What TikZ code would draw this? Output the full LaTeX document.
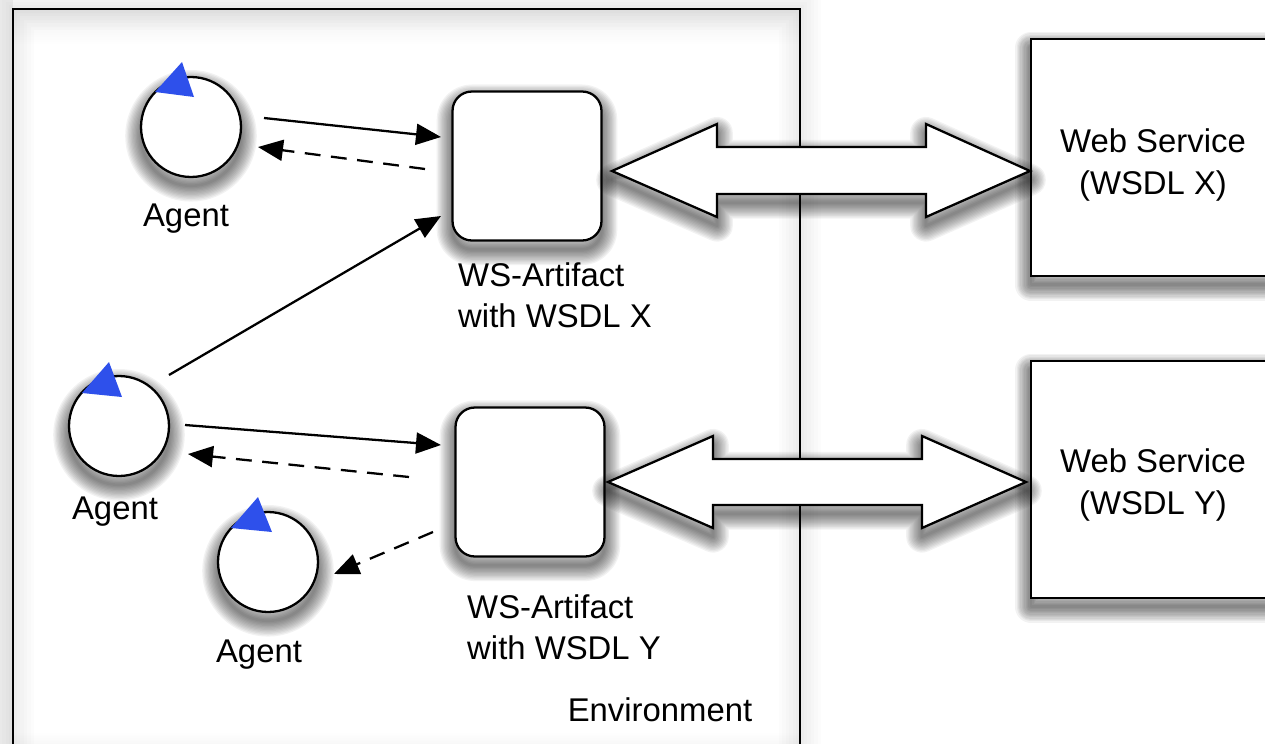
\documentclass[tikz,border=0pt]{standalone}
\usepackage{fontspec}
\setmainfont{Liberation Sans}
\usetikzlibrary{arrows.meta}
\definecolor{pointerblue}{RGB}{46,80,235}
\tikzset{
    softstep/.style = {preaction = {draw = black, draw opacity = .05, line width = #1, line join = round, transform canvas = {yshift = -5pt}}},
    softshadow/.style = {softstep = 18pt, softstep = 16.5pt, softstep = 15pt, softstep = 13.5pt, softstep = 12pt, softstep = 10.5pt, softstep = 9pt, softstep = 7.5pt, softstep = 6pt, softstep = 4.5pt, softstep = 3pt, softstep = 1.5pt},
    agentnode/.style = {circle, draw, line width = 1.3pt, fill = white, minimum size = 2cm, inner sep = 0pt, softshadow},
    artifactnode/.style = {rectangle, rounded corners = 11pt, draw, line width = 1.3pt, fill = white, minimum size = 2.98cm, inner sep = 0pt, softshadow},
    servicenode/.style = {rectangle, draw, line width = 1.3pt, fill = white, minimum width = 4.88cm, minimum height = 4.74cm, softshadow},
    labelnode/.style = {align = left, inner sep = 0pt},
    namenode/.style = {align = center, inner sep = 0pt},
    callline/.style = {-{Triangle[length = 0.5cm, width = 0.42cm, fill = black]}, line width = 1.3pt},
    backline/.style = {callline, dash pattern = on 9pt off 6pt},
    pipe/.style = {draw, line width = 1.3pt, fill = white, line join = miter, softshadow},
    wallstep/.style = {preaction = {draw = black, draw opacity = .012, line width = #1}}
}
\begin{document}
\begin{tikzpicture}[x = 0.02cm, y = -0.02cm, font = \fontsize{18.7}{23.6}\selectfont]
    \useasboundingbox (0,0) rectangle (1265,744);

    % environment
    \fill [black!5] (0,0) rectangle (13,744);
    \shade [top color = black!6, bottom color = white] (13,9) rectangle (800,45);
    \shade [top color = white, bottom color = black!3] (13,732) rectangle (800,744);
    \draw [line width = 1.3pt, wallstep = 24pt, wallstep = 20pt, wallstep = 16pt, wallstep = 12pt, wallstep = 8pt, wallstep = 4pt] (13,750) -- (13,9) -- (800,9) -- (800,750);
    \node [labelnode] (environment) at (660,710) {Environment};

    % services
    \node [servicenode] (serviceX) at (1153,157.5) {};
    \node [servicenode] (serviceY) at (1153,479.5) {};
    \node [namenode] (nameX) at (1153,165) {Web Service\\(WSDL X)};
    \node [namenode] (nameY) at (1153,485) {Web Service\\(WSDL Y)};

    % artifacts
    \node [artifactnode] (artifactX) at (527,166) {};
    \node [artifactnode] (artifactY) at (530,482) {};
    \node [labelnode] (labelX) at (555,295) {WS-Artifact\\with WSDL X};
    \node [labelnode] (labelY) at (564,627) {WS-Artifact\\with WSDL Y};

    % agents
    \node [agentnode] (agentA) at (191,127) {};
    \node [agentnode] (agentB) at (119,426) {};
    \node [agentnode] (agentC) at (268,562) {};
    \fill [pointerblue] (155,92) -- (182,62) -- (194,97) -- cycle;
    \fill [pointerblue] (82,393) -- (109,362) -- (122,397) -- cycle;
    \fill [pointerblue] (231,528) -- (258,497) -- (272,532) -- cycle;
    \node [namenode] (captionA) at (186,219) {Agent};
    \node [namenode] (captionB) at (115,512) {Agent};
    \node [namenode] (captionC) at (259,655) {Agent};

    % double arrows
    \draw [pipe] (612,171) -- (717,124) -- (717,147) -- (926,147) -- (926,124) -- (1030,171) -- (926,217) -- (926,194) -- (717,194) -- (717,217) -- cycle;
    \draw [pipe] (608,482) -- (713,436) -- (713,459) -- (922,459) -- (922,436) -- (1026,482) -- (922,528) -- (922,505) -- (713,505) -- (713,528) -- cycle;

    % messages
    \coordinate (outA) at (264,118);
    \coordinate (inX) at (441,137);
    \coordinate (fromX) at (425,169);
    \coordinate (backA) at (258,147);
    \coordinate (outB) at (169,375);
    \coordinate (inXB) at (441,216);
    \coordinate (outBY) at (185,425);
    \coordinate (inY) at (441,445);
    \coordinate (fromY) at (409,477);
    \coordinate (backB) at (188,454);
    \coordinate (fromYC) at (433,532);
    \coordinate (backC) at (334,574);
    \draw [callline] (outA) -- (inX);
    \draw [backline] (fromX) -- (backA);
    \draw [callline] (outB) -- (inXB);
    \draw [callline] (outBY) -- (inY);
    \draw [backline] (fromY) -- (backB);
    \draw [backline] (fromYC) -- (backC);
\end{tikzpicture}
\end{document}
